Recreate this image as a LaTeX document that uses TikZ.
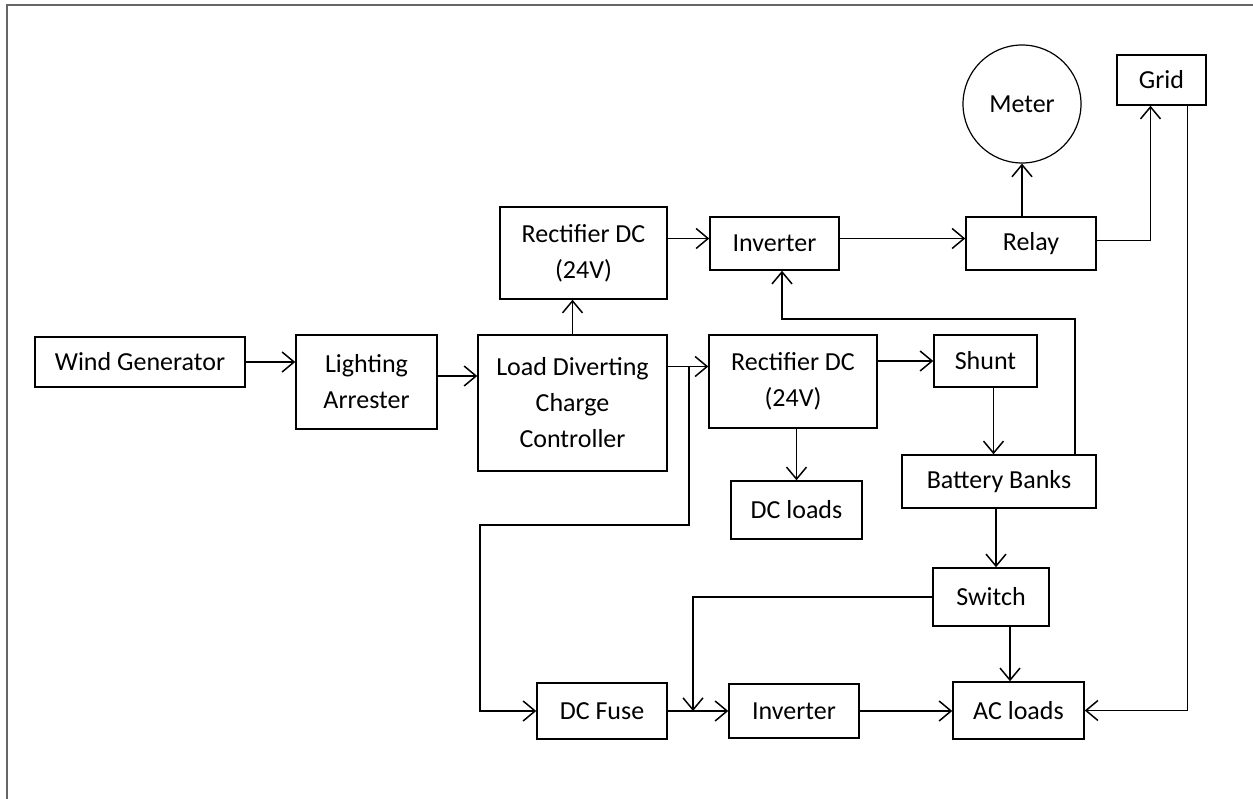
\documentclass[tikz,border=0pt]{standalone}
\usepackage{fontspec}
\setmainfont{Carlito}
\usepackage{tikz}
\usetikzlibrary{arrows.meta,positioning,calc}
\definecolor{fgray}{HTML}{666666}
\tikzset{
  block/.style  = {draw, line width=1.5pt, rectangle, align=center, inner sep=2pt},
  meterc/.style = {draw, line width=1.2pt, circle, inner sep=0pt, minimum size=118pt},
  sig/.style    = {-{Straight Barb[length=12pt,width=20pt]}, line width=1.5pt},
  frame/.style  = {draw=fgray, line width=2pt},
}

\begin{document}
\begin{tikzpicture}[x=1pt,y=-1pt,font=\fontsize{26}{36}\selectfont]
\useasboundingbox (0,0) rectangle (1253,799);
\draw[frame] (7,799) -- (7,5) -- (1253,5);
% ---- generation chain ----
\node[block,minimum width=210pt,minimum height=50pt] (WG) at (140,362) {Wind Generator};
\node[block,minimum width=141pt,minimum height=94pt] (LA) at (366.5,382) {Lighting\\Arrester};
\node[block,minimum width=189pt,minimum height=136pt] (LDCC) at (572.5,403) {Load Diverting\\Charge\\Controller};
\node[block,minimum width=167pt,minimum height=92pt] (R1) at (583.5,253) {Rectifier DC\\(24V)};
\node[block,minimum width=129pt,minimum height=53pt] (INV1) at (774.5,243.5) {Inverter};
\node[block,minimum width=130pt,minimum height=53pt] (RLY) at (1031,243.5) {Relay};
\node[meterc] (MTR) at (1022,104) {Meter};
\node[block,minimum width=89pt,minimum height=50pt] (GRD) at (1161.5,80) {Grid};
% ---- storage side ----
\node[block,minimum width=168pt,minimum height=93pt] (R2) at (793,381.5) {Rectifier DC\\(24V)};
\node[block,minimum width=103pt,minimum height=52pt] (SH) at (985.5,361) {Shunt};
\node[block,minimum width=194pt,minimum height=53pt] (BB) at (999,481.5) {Battery Banks};
\node[block,minimum width=131pt,minimum height=58pt] (DCL) at (796.5,510) {DC loads};
\node[block,minimum width=116pt,minimum height=58pt] (SW) at (991,597) {Switch};
% ---- load side ----
\node[block,minimum width=130pt,minimum height=56pt] (FUSE) at (602,711) {DC Fuse};
\node[block,minimum width=130pt,minimum height=54pt] (INV2) at (794,711) {Inverter};
\node[block,minimum width=131pt,minimum height=57pt] (ACL) at (1018.5,710.5) {AC loads};
\coordinate (tapA) at (689,366.5);
\coordinate (loopA) at (480,525);
\coordinate (tapB) at (693,711);
\coordinate (fbk) at (782,319);
% connectors
\draw[sig] (WG.east) -- (WG.east -| LA.west);
\draw[sig] ([yshift=6pt]LA.east) -- ([yshift=6pt]LA.east -| LDCC.west);
\draw[sig] (LDCC.north) -- (LDCC.north |- R1.south);
\draw[sig] ([yshift=5pt]INV1.west -| R1.east) -- ([yshift=5pt]INV1.west);
\draw[sig] ([yshift=5pt]INV1.east) -- ([yshift=5pt]RLY.west);
\draw[sig] (RLY.north -| MTR.south) -- (MTR.south);
\draw[sig] ([yshift=3pt]RLY.east) -| ([xshift=-11pt]GRD.south);
\draw[sig] ([xshift=26pt]GRD.south) |- (ACL.east);
\draw[sig] ([yshift=15pt]R2.west -| LDCC.east) -- ([yshift=15pt]R2.west);
\draw[sig] (tapA) |- (loopA) |- (FUSE.west);
\draw[sig] (SH.west -| R2.east) -- (SH.west);
\draw[sig] ([xshift=8pt]SH.south) -- ([xshift=8pt]SH.south |- BB.north);
\draw[sig] ([xshift=76pt]BB.north) |- (fbk) -- (fbk |- INV1.south);
\draw[sig] (DCL.north |- R2.south) -- (DCL.north);
\draw[sig] ([xshift=-3pt]BB.south) -- ([xshift=-3pt]BB.south |- SW.north);
\draw[sig] (SW.west) -| (tapB);
\draw[sig] (FUSE.east) -- (INV2.west);
\draw[sig] (INV2.east) -- (INV2.east -| ACL.west);
\draw[sig] ([xshift=19pt]SW.south) -- ([xshift=19pt]SW.south |- ACL.north);
\end{tikzpicture}
\end{document}
